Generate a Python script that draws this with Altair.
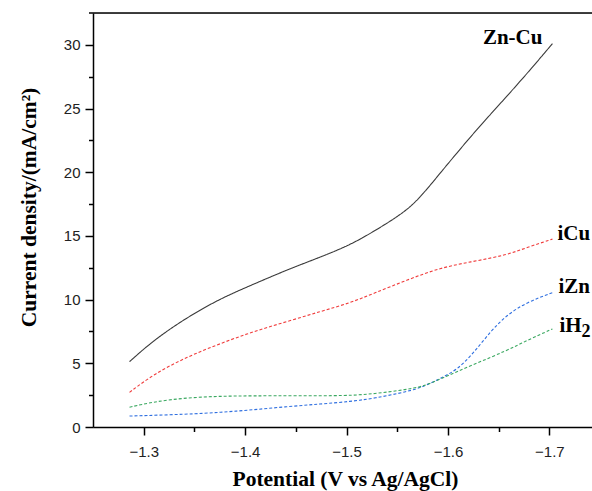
import altair as alt
import pandas as pd

# ---- data ----
zn_cu_x = [-1.286, -1.31, -1.343, -1.376, -1.408, -1.441, -1.474, -1.504, -1.530, -1.560, -1.576, -1.592, -1.625, -1.658, -1.684, -1.703]
zn_cu_y = [5.13, 6.83, 8.62, 10.1, 11.2, 12.33, 13.33, 14.3, 15.5, 17.0, 18.35, 19.9, 23.07, 25.95, 28.3, 30.1]

icu_x = [-1.286, -1.31, -1.343, -1.376, -1.408, -1.441, -1.474, -1.504, -1.527, -1.56, -1.592, -1.625, -1.658, -1.678, -1.703]
icu_y = [2.72, 4.16, 5.52, 6.57, 7.49, 8.27, 9.06, 9.75, 10.5, 11.55, 12.5, 13.0, 13.5, 14.1, 14.75]

izn_x = [-1.286, -1.343, -1.376, -1.408, -1.441, -1.474, -1.504, -1.527, -1.56, -1.576, -1.592, -1.609, -1.625, -1.642, -1.658, -1.678, -1.703]
izn_y = [0.86, 1.0, 1.15, 1.35, 1.6, 1.8, 2.0, 2.25, 2.77, 3.17, 3.8, 4.48, 5.79, 7.5, 8.8, 9.8, 10.55]

ih2_x = [-1.286, -1.31, -1.343, -1.376, -1.408, -1.45, -1.5, -1.527, -1.56, -1.576, -1.592, -1.625, -1.658, -1.678, -1.703]
ih2_y = [1.55, 1.99, 2.3, 2.42, 2.45, 2.45, 2.45, 2.6, 2.95, 3.2, 3.75, 4.9, 6.0, 6.8, 7.7]

series_names = ["Zn-Cu", "iCu", "iZn", "iH2"]
series_colors = ["#3a3a3a", "#f03c3c", "#2f6fe0", "#3aa860"]

x_major = [-1.3, -1.4, -1.5, -1.6, -1.7]
x_minor = [-1.35, -1.45, -1.55, -1.65]
y_major = [0, 5, 10, 15, 20, 25, 30]
y_minor = [2.5, 7.5, 12.5, 17.5, 22.5, 27.5]

X_DOMAIN = [-1.25, -1.742]
Y_DOMAIN = [0, 32.5]
W, H = 499, 414

rows = []
for name, xs_, ys_ in zip(series_names, [zn_cu_x, icu_x, izn_x, ih2_x], [zn_cu_y, icu_y, izn_y, ih2_y]):
    for a, b in zip(xs_, ys_):
        rows.append({"series": name, "x": a, "y": b})
df = pd.DataFrame(rows)

ends = pd.DataFrame({
    "series": series_names,
    "x": [zn_cu_x[-1], icu_x[-1], izn_x[-1], ih2_x[-1]],
    "y": [zn_cu_y[-1], icu_y[-1], izn_y[-1], ih2_y[-1]],
})

xs = alt.Scale(domain=X_DOMAIN, nice=False, zero=False)
ys = alt.Scale(domain=Y_DOMAIN, nice=False, zero=False)

axis_common = dict(
    domainColor="black", domainWidth=1.5, tickColor="black", tickWidth=1.5,
    labelFont="Liberation Sans", labelFontSize=15, labelColor="#222222",
    grid=False,
)

x_axis = alt.Axis(
    values=x_major, format=".1f", tickSize=8, labelPadding=9, orient="bottom",
    title="Potential (V vs Ag/AgCl)", titleFont="Liberation Serif", titleFontSize=21.5,
    titleFontWeight="bold", titleColor="black", titleX=252, titleY=58,
    titleBaseline="alphabetic", **axis_common,
)
y_axis = alt.Axis(
    values=y_major, format="d", tickSize=8, labelPadding=5, orient="left",
    title="Current density/(mA/cm²)", titleFont="Liberation Serif", titleFontSize=21.5,
    titleFontWeight="bold", titleColor="black", titleX=-58, titleY=194,
    titleBaseline="alphabetic", titleAngle=-90, **axis_common,
)

lines = alt.Chart(df).mark_line(interpolate="basis", strokeWidth=1.1).encode(
    x=alt.X("x:Q", scale=xs, axis=x_axis),
    y=alt.Y("y:Q", scale=ys, axis=y_axis),
    color=alt.Color("series:N", scale=alt.Scale(domain=series_names, range=series_colors), legend=None),
    strokeDash=alt.StrokeDash("series:N", scale=alt.Scale(domain=series_names, range=[[1, 0], [3, 2], [3, 2], [3, 2]]), legend=None),
    detail="series:N",
)

minor = alt.Chart(pd.DataFrame({"x": [x_minor[0]], "y": [y_minor[0]]})).mark_point(opacity=0).encode(
    x=alt.X("x:Q", scale=xs, axis=alt.Axis(values=x_minor, tickSize=4.5, labels=False, domain=False,
                                           title=None, orient="bottom", tickColor="black", tickWidth=1.5, grid=False)),
    y=alt.Y("y:Q", scale=ys, axis=alt.Axis(values=y_minor, tickSize=4.5, labels=False, domain=False,
                                           title=None, orient="left", tickColor="black", tickWidth=1.5, grid=False)),
)

top_rule = alt.Chart(pd.DataFrame({"a": [0]})).mark_rule(color="black", strokeWidth=1.5).encode(
    x=alt.value(-4), x2=alt.value(W + 5), y=alt.value(0)
)

label_style = dict(font="Liberation Serif", fontWeight="bold", color="black", baseline="alphabetic")

def label(name, text, dx, dy, align="left", size=21):
    return alt.Chart(ends[ends.series == name]).mark_text(
        align=align, dx=dx, dy=dy, text=text, fontSize=size, **label_style
    ).encode(
        x=alt.X("x:Q", scale=xs, axis=None), y=alt.Y("y:Q", scale=ys, axis=None)
    )

labels = [
    label("Zn-Cu", "Zn-Cu", -10, 0, align="right"),
    label("iCu", "iCu", 5, 1),
    label("iZn", "iZn", 6, 0),
    label("iH2", "iH", 7, 3),
    label("iH2", "2", 29, 8, size=18),
]

chart = alt.layer(lines, minor, top_rule, *labels).resolve_axis(
    x="independent", y="independent"
).properties(
    width=W, height=H,
    autosize=alt.AutoSizeParams(type="none"),
    padding={"left": 93, "top": 13, "right": 0, "bottom": 64},
).configure_view(stroke=None).configure(background="white")

chart.save("out.html", embed_options={"renderer": "svg", "actions": False})
